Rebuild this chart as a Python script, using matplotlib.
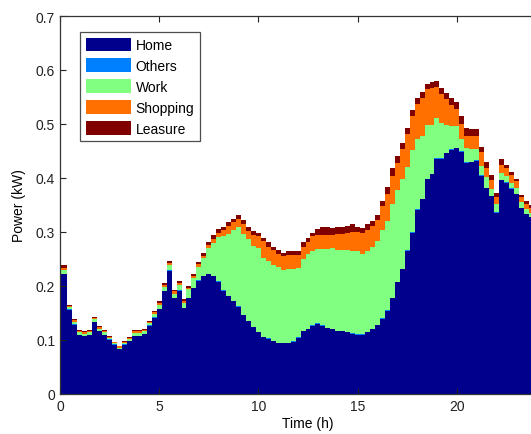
import numpy as np
import matplotlib
matplotlib.use("Agg")
import matplotlib.pyplot as plt

plt.rcParams['font.family'] = ['Liberation Sans', 'DejaVu Sans']

# 15-minute time slots (hours)
time_h = np.arange(96) * 0.25

home = [0.222, 0.222, 0.156, 0.128, 0.109, 0.107, 0.109, 0.133, 0.116, 0.109,
        0.100, 0.091, 0.083, 0.091, 0.098, 0.107, 0.107, 0.111, 0.126, 0.141,
        0.157, 0.190, 0.228, 0.177, 0.191, 0.159, 0.177, 0.196, 0.210, 0.218,
        0.222, 0.218, 0.208, 0.191, 0.181, 0.172, 0.162, 0.146, 0.135, 0.124,
        0.114, 0.105, 0.102, 0.098, 0.094, 0.094, 0.094, 0.097, 0.104, 0.116,
        0.120, 0.126, 0.130, 0.126, 0.122, 0.120, 0.116, 0.116, 0.114, 0.112,
        0.110, 0.110, 0.114, 0.120, 0.127, 0.139, 0.154, 0.177, 0.207, 0.231,
        0.265, 0.299, 0.341, 0.361, 0.398, 0.407, 0.436, 0.436, 0.446, 0.452,
        0.455, 0.449, 0.428, 0.429, 0.432, 0.404, 0.381, 0.366, 0.336, 0.396,
        0.391, 0.380, 0.370, 0.344, 0.333, 0.327]

others = [0.001] * 96

work = [0.007, 0.007, 0.004, 0.005, 0.004, 0.004, 0.004, 0.004, 0.004, 0.004,
        0.003, 0.002, 0.002, 0.003, 0.003, 0.005, 0.005, 0.004, 0.004, 0.006,
        0.007, 0.008, 0.009, 0.008, 0.010, 0.008, 0.016, 0.017, 0.025, 0.032,
        0.047, 0.061, 0.081, 0.101, 0.114, 0.131, 0.147, 0.149, 0.151, 0.150,
        0.155, 0.146, 0.144, 0.139, 0.140, 0.135, 0.136, 0.134, 0.129, 0.133,
        0.138, 0.137, 0.138, 0.142, 0.146, 0.149, 0.150, 0.150, 0.152, 0.152,
        0.153, 0.148, 0.150, 0.151, 0.156, 0.164, 0.166, 0.174, 0.169, 0.166,
        0.154, 0.151, 0.131, 0.116, 0.099, 0.090, 0.074, 0.065, 0.051, 0.044,
        0.041, 0.022, 0.026, 0.024, 0.020, 0.018, 0.019, 0.013, 0.015, 0.013,
        0.011, 0.010, 0.010, 0.010, 0.009, 0.008]

shopping = [0.004, 0.004, 0.002, 0.003, 0.002, 0.002, 0.002, 0.003, 0.003, 0.002,
            0.002, 0.002, 0.002, 0.002, 0.002, 0.003, 0.003, 0.002, 0.002, 0.003,
            0.004, 0.003, 0.004, 0.004, 0.004, 0.004, 0.003, 0.004, 0.005, 0.005,
            0.006, 0.007, 0.009, 0.011, 0.016, 0.014, 0.015, 0.019, 0.015, 0.019,
            0.022, 0.031, 0.026, 0.029, 0.024, 0.026, 0.027, 0.026, 0.024, 0.023,
            0.022, 0.028, 0.025, 0.026, 0.026, 0.025, 0.029, 0.029, 0.031, 0.035,
            0.036, 0.039, 0.039, 0.039, 0.038, 0.044, 0.049, 0.052, 0.051, 0.056,
            0.061, 0.063, 0.064, 0.070, 0.067, 0.069, 0.057, 0.054, 0.048, 0.039,
            0.031, 0.028, 0.023, 0.024, 0.024, 0.025, 0.018, 0.017, 0.012, 0.014,
            0.015, 0.015, 0.013, 0.009, 0.009, 0.009]

leasure = [0.004, 0.004, 0.002, 0.002, 0.002, 0.002, 0.002, 0.002, 0.002, 0.002,
           0.002, 0.001, 0.001, 0.001, 0.002, 0.002, 0.002, 0.002, 0.002, 0.003,
           0.003, 0.003, 0.004, 0.003, 0.004, 0.004, 0.003, 0.004, 0.004, 0.005,
           0.005, 0.007, 0.007, 0.006, 0.006, 0.006, 0.007, 0.007, 0.008, 0.008,
           0.007, 0.006, 0.008, 0.006, 0.008, 0.006, 0.006, 0.006, 0.006, 0.008,
           0.008, 0.006, 0.012, 0.014, 0.014, 0.013, 0.013, 0.013, 0.014, 0.014,
           0.010, 0.009, 0.010, 0.010, 0.010, 0.010, 0.013, 0.014, 0.012, 0.011,
           0.012, 0.012, 0.011, 0.011, 0.010, 0.010, 0.012, 0.011, 0.011, 0.012,
           0.012, 0.014, 0.014, 0.013, 0.014, 0.009, 0.010, 0.009, 0.009, 0.011,
           0.006, 0.006, 0.004, 0.005, 0.005, 0.005]

labels = ["Home", "Others", "Work", "Shopping", "Leasure"]
colors = ["#00008C", "#0080FF", "#80FF80", "#FF7000", "#800000"]
series = [home, others, work, shopping, leasure]

fig = plt.figure(figsize=(5.31, 4.35), dpi=100)
ax = fig.add_axes([60 / 531, 40 / 435, 496 / 531, 378 / 435])

bottom = np.zeros(len(time_h))
for vals, lab, col in zip(series, labels, colors):
    vals = np.asarray(vals)
    ax.bar(time_h, vals, width=0.25, bottom=bottom, color=col,
           linewidth=0, antialiased=False, label=lab, align='center')
    bottom += vals

ax.set_xlim(0, 25)
ax.set_ylim(0, 0.7)
ax.set_xticks([0, 5, 10, 15, 20, 25])
ax.set_xticklabels(["0", "5", "10", "15", "20", ""])
ax.set_yticks([0, 0.1, 0.2, 0.3, 0.4, 0.5, 0.6, 0.7])
ax.set_yticklabels(["0", "0.1", "0.2", "0.3", "0.4", "0.5", "0.6", "0.7"])
ax.tick_params(direction='in', length=4, top=True, right=True,
               labelsize=10, colors='#222222', width=0.8)
for s in ax.spines.values():
    s.set_color('#333333')
    s.set_linewidth(0.9)

ax.set_xlabel("Time (h)", fontsize=10, labelpad=2)
ax.set_ylabel("Power (kW)", fontsize=10, labelpad=7)

leg = ax.legend(loc='upper left', bbox_to_anchor=(20 / 496, 1 - 16 / 378),
                borderaxespad=0, fontsize=10, frameon=True, fancybox=False,
                handlelength=3.3, handleheight=1.15, labelspacing=0.45,
                handletextpad=0.3, borderpad=0.4)
leg.get_frame().set_edgecolor('#222222')
leg.get_frame().set_linewidth(0.9)

fig.savefig("out.png", dpi=100)
